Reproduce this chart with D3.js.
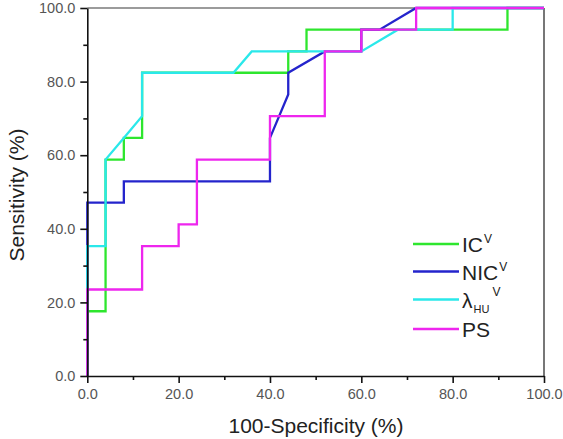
<!DOCTYPE html>
<html><head><meta charset="utf-8">
<script src="https://cdn.jsdelivr.net/npm/d3@7"></script>
<style>
body{margin:0;background:#fff;}
svg{display:block;font-family:"Liberation Sans",Arial,sans-serif;}
</style></head>
<body><svg id="c" width="563" height="439"></svg>
<script>
// Data (x = 100-Specificity %, y = Sensitivity %)
const seriesNames = ["IC", "NIC", "λ", "PS"];
const icX  = [0,0,4,4,8,8,12,12,44,44,48,48,92,92,100];
const icY  = [0,17.6,17.6,58.8,58.8,64.7,64.7,82.4,82.4,88.2,88.2,94.1,94.1,100,100];
const nicX = [0,0,8,8,40,40,44,44,52,60,60,64,72,100];
const nicY = [0,47.1,47.1,52.9,52.9,64.7,76.5,82.4,88.2,88.2,94.1,94.1,100,100];
const lamX = [0,0,4,4,8,12,12,32,36,60,68,80,80,100];
const lamY = [0,35.3,35.3,58.8,64.7,70.6,82.4,82.4,88.2,88.2,94.1,94.1,100,100];
const psX  = [0,0,12,12,20,20,24,24,40,40,52,52,60,60,72,72,100];
const psY  = [0,23.5,23.5,35.3,35.3,41.2,41.2,58.8,58.8,70.6,70.6,88.2,88.2,94.1,94.1,100,100];
const majorTicks = [0,20,40,60,80,100];
const minorTicks = [10,30,50,70,90];
const colors = ["#2ee62e","#2424cc","#2ae8ea","#ee26ee"];

const svg = d3.select("#c");
const x = d3.scaleLinear().domain([0,100]).range([87.3,544]);
const y = d3.scaleLinear().domain([0,100]).range([376,8]);
const fmt = d3.format(".1f");

// frame top/right
svg.append("line").attr("x1",x(0)).attr("x2",x(100)).attr("y1",y(100)).attr("y2",y(100))
  .attr("stroke","#7a7a7a").attr("stroke-width",1.6);
svg.append("line").attr("x1",x(100)).attr("x2",x(100)).attr("y1",y(100)).attr("y2",y(0))
  .attr("stroke","#555").attr("stroke-width",1.6);

// curves
const series = [[icX,icY],[nicX,nicY],[lamX,lamY],[psX,psY]];
const line = d3.line().x(d=>x(d[0])).y(d=>y(d[1]));
series.forEach((s,i)=>{
  const pts = s[0].map((v,j)=>[v,s[1][j]]);
  svg.append("path").datum(pts).attr("d",line).attr("fill","none")
    .attr("stroke",colors[i]).attr("stroke-width",2.3).attr("stroke-linejoin","miter");
});

// axes
function styleAxis(g){
  g.select(".domain").attr("stroke","#111").attr("stroke-width",1.6);
  g.selectAll(".tick line").attr("stroke","#111").attr("stroke-width",1.6);
  g.selectAll(".tick text").attr("fill","#555").attr("font-size","14.5px")
    .attr("font-family","Liberation Sans, Arial, sans-serif");
}
const gx = svg.append("g").attr("transform",`translate(0,${y(0)})`)
  .call(d3.axisBottom(x).tickValues(majorTicks).tickFormat(fmt).tickSize(7).tickPadding(6).tickSizeOuter(0));
styleAxis(gx);
const gxm = svg.append("g").attr("transform",`translate(0,${y(0)})`)
  .call(d3.axisBottom(x).tickValues(minorTicks).tickFormat("").tickSize(4).tickSizeOuter(0));
styleAxis(gxm); gxm.select(".domain").remove();
const gy = svg.append("g").attr("transform",`translate(${x(0)},0)`)
  .call(d3.axisLeft(y).tickValues(majorTicks).tickFormat(fmt).tickSize(7).tickPadding(5).tickSizeOuter(0));
styleAxis(gy);
const gym = svg.append("g").attr("transform",`translate(${x(0)},0)`)
  .call(d3.axisLeft(y).tickValues(minorTicks).tickFormat("").tickSize(4).tickSizeOuter(0));
styleAxis(gym); gym.select(".domain").remove();

// axis titles
svg.append("text").attr("x",316).attr("y",433).attr("text-anchor","middle")
  .attr("font-size","21px").attr("fill","#222").text("100-Specificity (%)");
svg.append("text").attr("transform","translate(24,195) rotate(-90)").attr("text-anchor","middle")
  .attr("font-size","21px").attr("fill","#222").text("Sensitivity (%)");

// legend
const legY = [244,271.5,299.5,329];
seriesNames.forEach((n,i)=>{
  svg.append("line").attr("x1",413).attr("x2",459).attr("y1",legY[i]).attr("y2",legY[i])
    .attr("stroke",colors[i]).attr("stroke-width",2.3);
  const t = svg.append("text").attr("x",462).attr("y",legY[i]+8).attr("font-size","21px").attr("fill","#222");
  if(n==="PS"){ t.text("PS"); }
  else if(n==="λ"){
    t.append("tspan").text("λ");
    t.append("tspan").attr("font-size","11px").attr("dx",1).attr("dy",5).text("HU");
    t.append("tspan").attr("font-size","12px").attr("dx",3).attr("dy",-17).text("V");
  } else {
    t.append("tspan").text(n);
    t.append("tspan").attr("font-size","12px").attr("dx",1).attr("dy",-9).text("V");
  }
});
</script></body></html>
